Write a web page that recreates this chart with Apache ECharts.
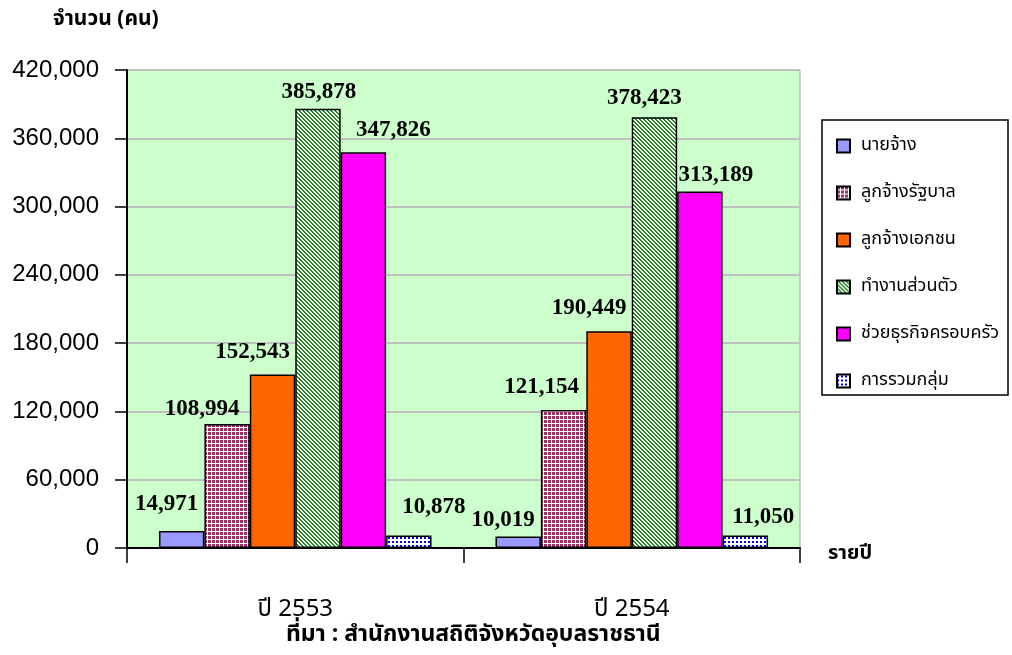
<!DOCTYPE html>
<html><head><meta charset="utf-8">
<script src="https://cdn.jsdelivr.net/npm/echarts@6/dist/echarts.min.js"></script>
<style>html,body{margin:0;padding:0;background:#fff}#c{width:1012px;height:655px}</style>
</head><body><div id="c"></div>
<script>
const categories = ['ปี 2553', 'ปี 2554'];
const seriesNames = ['นายจ้าง', 'ลูกจ้างรัฐบาล', 'ลูกจ้างเอกชน', 'ทำงานส่วนตัว', 'ช่วยธุรกิจครอบครัว', 'การรวมกลุ่ม'];
const employer = [14971, 10019];
const govEmployee = [108994, 121154];
const privEmployee = [152543, 190449];
const selfEmployed = [385878, 378423];
const familyBusiness = [347826, 313189];
const groupWork = [10878, 11050];
const yTicks = [0, 60000, 120000, 180000, 240000, 300000, 360000, 420000];

const seriesValues = [employer, govEmployee, privEmployee, selfEmployed, familyBusiness, groupWork];

// label offsets (positioning only)
const labelOffsets = [
  [[-15,-10],[-15,0]],
  [[-25,2],[-22,-7]],
  [[-20,-6],[-20,-7]],
  [[1,0],[-10,-3]],
  [[30,-6],[16,0]],
  [[25,-12],[18,-2]]
];

function pattern(kind){
  const c = document.createElement('canvas');
  const g = c.getContext('2d');
  c.width=4;c.height=4;
  g.fillStyle='#ffffff';g.fillRect(0,0,4,4);
  if(kind==='check'){
    g.fillStyle='#993366';g.fillRect(0,0,3,3);
  } else if(kind==='diag'){
    g.fillStyle='#228B22';
    for(let i=0;i<4;i++){g.fillRect(i,i,1,1);g.fillRect((i+1)%4,i,1,1);}
  } else {
    g.fillStyle='#0000ff';g.fillRect(0,1,2,2);
  }
  return {image:c, repeat:'repeat'};
}
const colors = ['#9999FF', pattern('check'), '#FF6600', pattern('diag'), '#FF00FF', pattern('dots')];

const thai = '"Noto Sans Thai","Noto Sans","Liberation Sans",sans-serif';
const chart = echarts.init(document.getElementById('c'));
chart.setOption({
  animation:false,
  backgroundColor:'#ffffff',
  grid:{left:127,right:212,top:70,bottom:107,show:true,backgroundColor:'#CCFFCC',borderColor:'#A0A0A0',borderWidth:1},
  legend:{
    orient:'vertical',left:831,top:132,itemWidth:13,itemHeight:13,itemGap:29,
    icon:'rect',data:seriesNames,
    textStyle:{fontFamily:thai,fontSize:18,lineHeight:14,color:'#000',padding:[0,0,0,6]}
  },
  xAxis:{
    type:'category',data:categories,
    axisLine:{lineStyle:{color:'#000',width:2}},
    axisTick:{show:true,length:15,lineStyle:{color:'#000',width:1.5}},
    axisLabel:{fontFamily:thai,fontSize:24,color:'#000',margin:51}
  },
  yAxis:{
    type:'value',min:0,max:420000,interval:60000,
    axisLine:{show:true,lineStyle:{color:'#000',width:2}},
    axisTick:{show:true,length:12,lineStyle:{color:'#000',width:1.5}},
    axisLabel:{fontFamily:'"Liberation Sans",Arial,sans-serif',fontSize:24,color:'#000',margin:28,
      formatter:v=>yTicks.includes(v)?v.toLocaleString('en-US'):''},
    splitLine:{lineStyle:{color:'#C0C0C0',width:2}}
  },
  graphic:[
    {type:'rect',shape:{x:822,y:120,width:186,height:275},style:{fill:'#fff',stroke:'#000',lineWidth:1.5},z:-1},
    {type:'text',left:53,top:10,style:{text:'จำนวน (คน)',font:'bold 21px '+thai,fill:'#000'}},
    {type:'text',left:828,top:545,style:{text:'รายปี',font:'bold 20px '+thai,fill:'#000'}},
    {type:'text',left:286,top:625,style:{text:'ที่มา : สำนักงานสถิติจังหวัดอุบลราชธานี',font:'bold 23px '+thai,fill:'#000'}}
  ],
  series: seriesNames.map((name,si)=>({
    name,type:'bar',barGap:'0%',barCategoryGap:'19%',
    itemStyle:{color:colors[si],borderColor:'#000',borderWidth:1.5},
    data: seriesValues[si].map((v,ci)=>({value:v,label:{offset:labelOffsets[si][ci]}})),
    label:{show:true,position:'top',distance:5,fontFamily:'"Liberation Serif","Times New Roman",serif',fontWeight:'bold',fontSize:23,color:'#000',
      formatter:p=>p.value.toLocaleString('en-US')}
  }))
});
</script></body></html>
